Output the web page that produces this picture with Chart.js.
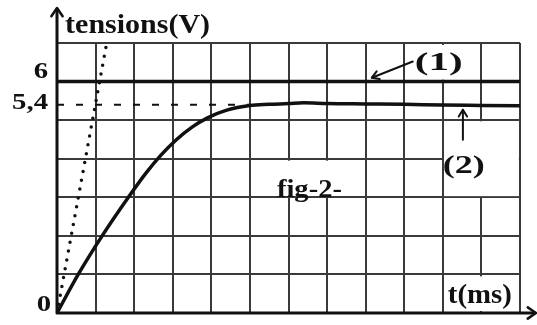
<!DOCTYPE html>
<html>
<head>
<meta charset="utf-8">
<script src="https://cdn.jsdelivr.net/npm/chart.js@4.4.1/dist/chart.umd.min.js"></script>
<style>
  html, body { margin: 0; padding: 0; background: #ffffff; }
  canvas { display: block; }
</style>
</head>
<body>
<canvas id="c" width="537" height="325"></canvas>
<script>
// ---- data (x in grid divisions of t, y in volts) ----
const curveT = [0, 0.55, 1.17, 1.85, 2.3, 2.7, 3.1, 3.5, 3.9, 4.4, 5.0, 5.5, 6.0, 6.4, 7.0, 8.0, 9.0, 10.0, 11.0, 12.0];
const curveU = [0, 1.0, 2.0, 3.0, 3.62, 4.1, 4.5, 4.82, 5.06, 5.26, 5.38, 5.41, 5.43, 5.45, 5.43, 5.42, 5.41, 5.39, 5.38, 5.37];
const tangentT = [0, 1.27];
const tangentU = [0, 6.9];
const lineE_T = [0, 12];
const lineE_U = [6, 6];
const dashT = [0, 5.0];
const dashU = [5.4, 5.4];
const yTickValues = [0, 5.4, 6];
const yTickLabels = ['0', '5,4', '6'];
const xMin = 0, xMax = 12, yMin = 0, yMax = 7;

const toPts = (xs, ys) => xs.map((x, i) => ({ x: x, y: ys[i] }));

// label texts and their placement (data coordinates)
const notes = [
  { t: 'tensions(V)', x: 0.21, y: 7.27, w: 145, size: 27 },
  { t: '(1)', x: 9.27, y: 6.31, w: 48, size: 26 },
  { t: '(2)', x: 10.0, y: 3.64, w: 42, size: 26 },
  { t: 'fig-2-', x: 5.70, y: 3.01, w: 65, size: 25 },
  { t: 't(ms)', x: 10.13, y: 0.26, w: 64, size: 27 }
];
const boxes = [
  { x0: 9.2, x1: 10.9, y0: 6.05, y1: 6.95 },
  { x0: 10.03, x1: 11.97, y0: 3.03, y1: 4.97 },
  { x0: 5.6, x1: 7.4, y0: 3.05, y1: 3.95 },
  { x0: 10.04, x1: 11.96, y0: 0.05, y1: 0.95 }
];
const arrows = [
  { x0: 9.22, y0: 6.52, x1: 8.16, y1: 6.10 },
  { x0: 10.52, y0: 4.49, x1: 10.52, y1: 5.27 }
];
const tickStyle = [
  { dy: -8, right: -6 },
  { dy: -2, right: -9 },
  { dy: -10, right: -9 }
];

const FONT = '"Liberation Serif", "Times New Roman", serif';
const INK = '#111111';

function fitText(ctx, txt, left, baseline, width, size) {
  ctx.save();
  ctx.font = 'bold ' + size + 'px ' + FONT;
  ctx.fillStyle = INK;
  ctx.textBaseline = 'alphabetic';
  ctx.textAlign = 'left';
  const w = ctx.measureText(txt).width;
  ctx.translate(left, baseline);
  ctx.scale(width / w, 1);
  ctx.fillText(txt, 0, 0);
  ctx.restore();
}

function arrowHead(ctx, x, y, ang, len, spread) {
  ctx.beginPath();
  ctx.moveTo(x + len * Math.cos(ang + spread), y + len * Math.sin(ang + spread));
  ctx.lineTo(x, y);
  ctx.lineTo(x + len * Math.cos(ang - spread), y + len * Math.sin(ang - spread));
  ctx.stroke();
}

const decor = {
  id: 'decor',
  beforeDatasetsDraw(chart) {
    const ctx = chart.ctx, xs = chart.scales.x, ys = chart.scales.y;
    ctx.save();
    ctx.fillStyle = '#ffffff';
    boxes.forEach(b => {
      const l = xs.getPixelForValue(b.x0), r = xs.getPixelForValue(b.x1);
      const t = ys.getPixelForValue(b.y1), bt = ys.getPixelForValue(b.y0);
      ctx.fillRect(l, t, r - l, bt - t);
    });
    ctx.restore();
  },
  afterDatasetsDraw(chart) {
    const ctx = chart.ctx, xs = chart.scales.x, ys = chart.scales.y;
    const ox = xs.getPixelForValue(xMin), oy = ys.getPixelForValue(yMin);
    ctx.save();
    ctx.strokeStyle = INK;
    ctx.lineCap = 'round';
    ctx.lineJoin = 'round';
    // axes
    ctx.lineWidth = 3;
    ctx.beginPath();
    ctx.moveTo(ox, oy);
    ctx.lineTo(ox, ys.getPixelForValue(yMax) - 34);
    ctx.moveTo(ox, oy);
    ctx.lineTo(xs.getPixelForValue(xMax) + 15, oy);
    ctx.stroke();
    ctx.lineWidth = 2.5;
    arrowHead(ctx, ox, ys.getPixelForValue(yMax) - 35, Math.PI / 2, 10, 0.6);
    arrowHead(ctx, xs.getPixelForValue(xMax) + 16, oy, Math.PI, 10, 0.6);
    // annotation arrows
    ctx.lineWidth = 2;
    arrows.forEach(a => {
      const x0 = xs.getPixelForValue(a.x0), y0 = ys.getPixelForValue(a.y0);
      const x1 = xs.getPixelForValue(a.x1), y1 = ys.getPixelForValue(a.y1);
      ctx.beginPath();
      ctx.moveTo(x0, y0);
      ctx.lineTo(x1, y1);
      ctx.stroke();
      const ang = Math.atan2(y0 - y1, x0 - x1);
      arrowHead(ctx, x1, y1, ang, 8, 0.55);
    });
    ctx.restore();
    // y tick labels
    yTickValues.forEach((v, i) => {
      const st = tickStyle[i];
      ctx.save();
      ctx.font = 'bold 23px ' + FONT;
      ctx.fillStyle = INK;
      ctx.textAlign = 'right';
      ctx.textBaseline = 'middle';
      const rx = ox + st.right, cy = ys.getPixelForValue(v) + st.dy;
      ctx.translate(rx, cy);
      ctx.scale(1.25, 1);
      ctx.fillText(yTickLabels[i], 0, 0);
      ctx.restore();
    });
    // text notes
    notes.forEach(n => {
      fitText(ctx, n.t, xs.getPixelForValue(n.x), ys.getPixelForValue(n.y), n.w, n.size);
    });
  }
};

const common = { pointRadius: 0, pointHoverRadius: 0, borderColor: INK, fill: false };

new Chart(document.getElementById('c'), {
  type: 'line',
  data: {
    datasets: [
      Object.assign({ label: '(1)', data: toPts(lineE_T, lineE_U), borderWidth: 3.5 }, common),
      Object.assign({ label: 'U0', data: toPts(dashT, dashU), borderWidth: 2, borderDash: [7, 12] }, common),
      Object.assign({ label: '(2)', data: toPts(curveT, curveU), borderWidth: 3.5, cubicInterpolationMode: 'monotone' }, common),
      Object.assign({ label: 'tangent', data: toPts(tangentT, tangentU), borderWidth: 3.5, borderDash: [0, 9], borderCapStyle: 'round' }, common)
    ]
  },
  options: {
    responsive: false,
    animation: false,
    devicePixelRatio: 1,
    layout: { padding: { left: 57, right: 17, top: 43, bottom: 12 } },
    plugins: { legend: { display: false }, tooltip: { enabled: false } },
    events: [],
    scales: {
      x: {
        type: 'linear', min: xMin, max: xMax,
        ticks: { display: false, stepSize: 1 },
        grid: { color: '#3a3a3a', lineWidth: 2, drawTicks: false },
        border: { display: false }
      },
      y: {
        type: 'linear', min: yMin, max: yMax,
        ticks: { display: false, stepSize: 1 },
        grid: { color: '#3a3a3a', lineWidth: 2, drawTicks: false },
        border: { display: false }
      }
    }
  },
  plugins: [decor]
});
</script>
</body>
</html>
